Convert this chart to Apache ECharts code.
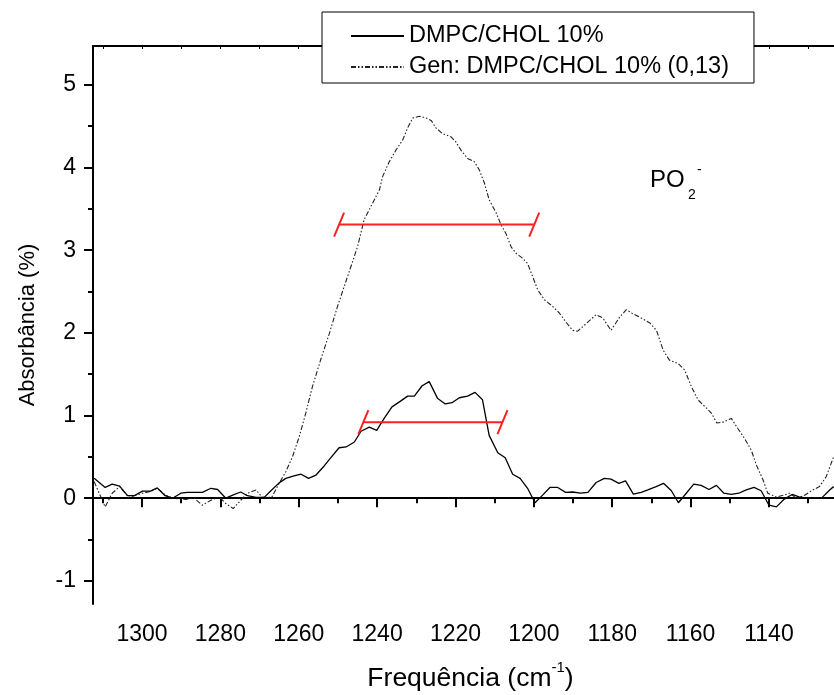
<!DOCTYPE html>
<html>
<head>
<meta charset="utf-8">
<script src="https://cdn.jsdelivr.net/npm/echarts@6/dist/echarts.min.js"></script>
<style>
html,body{margin:0;padding:0;background:#fff}
#main{width:834px;height:695px}
</style>
</head>
<body>
<div id="main"></div>
<script>
// DMPC/CHOL 10% (solid)
var wnPure = [1312.2,1309.4,1307.6,1305.7,1303.7,1302.0,1299.9,1297.8,1296.1,1294.1,1292.2,1290.1,1288.4,1286.4,1284.6,1282.4,1280.7,1278.6,1276.7,1274.8,1273.1,1270.9,1268.8,1266.9,1265.0,1263.3,1261.2,1259.4,1257.5,1255.6,1253.5,1251.8,1249.7,1247.9,1245.8,1244.1,1242.0,1240.1,1238.2,1236.2,1234.3,1232.2,1230.5,1228.5,1226.7,1224.6,1222.6,1220.9,1219.0,1216.9,1215.0,1213.1,1211.4,1209.2,1207.3,1205.4,1203.5,1201.6,1199.7,1197.7,1195.9,1193.9,1191.9,1190.1,1188.1,1186.2,1184.1,1182.0,1180.3,1178.3,1176.6,1174.6,1172.6,1170.9,1168.8,1166.9,1164.9,1163.1,1161.1,1159.2,1157.3,1155.3,1153.4,1151.5,1149.6,1147.7,1145.8,1143.8,1142.0,1140.0,1138.1,1136.2,1134.1,1132.3,1130.2,1128.3,1126.4,1124.5,1123.5];
var absPure = [0.24,0.13,0.17,0.145,0.03,0.03,0.085,0.085,0.125,0.03,0.0,0.06,0.07,0.07,0.07,0.12,0.105,0.0,0.04,0.075,0.03,0.01,0.01,0.1,0.185,0.24,0.27,0.29,0.24,0.28,0.39,0.49,0.61,0.62,0.68,0.81,0.86,0.82,0.965,1.105,1.165,1.235,1.235,1.36,1.41,1.21,1.14,1.155,1.215,1.235,1.28,1.19,0.76,0.55,0.49,0.29,0.24,0.12,-0.055,0.04,0.13,0.13,0.07,0.075,0.06,0.07,0.19,0.24,0.23,0.18,0.21,0.05,0.07,0.1,0.14,0.18,0.09,-0.055,0.06,0.17,0.155,0.105,0.155,0.06,0.045,0.06,0.1,0.13,0.09,-0.085,-0.105,-0.015,0.045,0.015,0.0,0.005,0.01,0.1,0.14];

// Gen: DMPC/CHOL 10% (0,13) (dash-dot-dot)
var wnGen = [1312.2,1309.4,1307.6,1305.7,1303.3,1299.9,1297.9,1296.1,1294.1,1292.2,1290.3,1288.8,1286.7,1284.6,1282.4,1280.3,1278.6,1276.7,1274.8,1273.1,1270.9,1269.3,1266.9,1265.0,1263.3,1261.6,1259.9,1258.2,1256.5,1254.3,1252.2,1250.1,1248.4,1246.7,1245.0,1243.3,1242.0,1240.7,1239.4,1238.6,1236.9,1235.2,1233.5,1232.2,1230.9,1229.2,1227.5,1226.2,1225.0,1223.3,1221.1,1219.9,1218.6,1216.9,1215.2,1213.9,1212.6,1211.4,1209.6,1208.4,1207.1,1205.8,1204.5,1202.8,1201.6,1200.3,1199.0,1197.3,1195.2,1193.5,1191.8,1190.1,1188.8,1186.7,1184.1,1182.4,1180.3,1178.1,1176.4,1174.7,1172.6,1170.4,1168.7,1167.0,1165.4,1163.2,1161.5,1159.8,1158.1,1156.4,1154.7,1153.3,1151.7,1149.6,1147.9,1146.2,1144.5,1143.2,1141.5,1140.3,1138.1,1136.4,1134.7,1133.0,1130.9,1128.8,1127.1,1125.4,1123.5];
var absGen = [0.2,-0.105,0.06,0.14,0.01,0.06,0.08,0.12,0.04,0.0,-0.01,-0.015,0.0,-0.085,-0.025,0.015,-0.065,-0.125,-0.025,0.06,0.1,0.01,0.01,0.18,0.32,0.5,0.74,1.03,1.35,1.69,1.99,2.32,2.56,2.80,3.04,3.37,3.49,3.61,3.73,3.89,4.07,4.21,4.33,4.48,4.60,4.62,4.60,4.57,4.48,4.41,4.37,4.31,4.21,4.11,4.07,3.97,3.81,3.61,3.45,3.31,3.20,3.04,2.96,2.90,2.84,2.68,2.52,2.40,2.32,2.24,2.13,2.03,2.02,2.11,2.22,2.18,2.03,2.19,2.28,2.23,2.18,2.12,2.03,1.79,1.67,1.63,1.55,1.35,1.19,1.11,1.03,0.91,0.92,0.965,0.84,0.72,0.58,0.40,0.22,0.06,0.015,0.035,0.06,0.0,0.035,0.1,0.14,0.26,0.50];

// red width markers: start, end, level
var fwhmStart = [1249.7, 1243.5];
var fwhmEnd = [1199.9, 1208.0];
var fwhmLevel = [3.31, 0.92];

var xMajor = [1140,1160,1180,1200,1220,1240,1260,1280,1300];
var xMinor = [1130,1150,1170,1190,1210,1230,1250,1270,1290,1310];
var yMajor = [-1,0,1,2,3,4,5];
var yMinor = [-0.5,0.5,1.5,2.5,3.5,4.5];

var seriesNames = ['DMPC/CHOL 10%', 'Gen: DMPC/CHOL 10% (0,13)'];

var FONT = 'Liberation Sans, Arial, sans-serif';
var X_MIN = 1123.4, X_MAX = 1312.5, Y_MIN = -1.28, Y_MAX = 5.47;

var pureData = wnPure.map(function (w, i) { return [w, absPure[i]]; });
var genData = wnGen.map(function (w, i) { return [w, absGen[i]]; });
var barData = fwhmStart.map(function (s, i) { return [s, fwhmEnd[i], fwhmLevel[i]]; });

var chart = echarts.init(document.getElementById('main'));

var plain = function (v) { return String(v); };

var axisBase = {
  type: 'value', min: X_MIN, max: X_MAX, inverse: true,
  splitLine: { show: false }
};

var option = {
  animation: false,
  backgroundColor: '#fff',
  grid: { left: 93, right: 0, top: 46, bottom: 91, outerBoundsMode: 'none', containLabel: false },
  legend: {
    data: seriesNames,
    orient: 'vertical',
    left: 322, top: 12,
    itemWidth: 53, itemHeight: 14, itemGap: 7,
    padding: [12, 25, 4, 28],
    backgroundColor: '#fff',
    borderColor: '#000', borderWidth: 1,
    itemStyle: { opacity: 0 },
    textStyle: { fontSize: 23.5, color: '#000', fontFamily: FONT }
  },
  xAxis: [
    Object.assign({}, axisBase, {
      position: 'bottom',
      name: '{n|Frequência (cm}{sup|-1}{n|)}',
      nameLocation: 'middle', nameGap: 56,
      nameTextStyle: {
        color: '#000', fontFamily: FONT,
        padding: [0, 0, 0, 14],
        rich: {
          n: { fontSize: 26.5, lineHeight: 32, verticalAlign: 'bottom', fontFamily: FONT, color: '#000' },
          sup: { fontSize: 15, lineHeight: 15, verticalAlign: 'top', fontFamily: FONT, color: '#000' }
        }
      },
      axisLine: { show: true, lineStyle: { color: '#000', width: 2 } },
      axisTick: { show: true, length: 9, lineStyle: { color: '#000', width: 2 }, customValues: xMajor },
      axisLabel: { show: true, margin: 19, fontSize: 23, color: '#000', fontFamily: FONT, customValues: xMajor, formatter: plain }
    }),
    Object.assign({}, axisBase, {
      position: 'bottom',
      axisLine: { show: false },
      axisTick: { show: true, length: 5, lineStyle: { color: '#000', width: 2 }, customValues: xMinor },
      axisLabel: { show: false }
    }),
    Object.assign({}, axisBase, {
      position: 'top',
      axisLine: { show: true, lineStyle: { color: '#000', width: 2 } },
      axisTick: { show: true, inside: true, length: 3, lineStyle: { color: '#000', width: 1 }, customValues: xMajor.concat(xMinor) },
      axisLabel: { show: false }
    })
  ],
  yAxis: [
    {
      type: 'value', min: Y_MIN, max: Y_MAX, position: 'left',
      name: 'Absorbância (%)',
      nameLocation: 'middle', nameGap: 54,
      nameTextStyle: { fontSize: 22, color: '#000', fontFamily: FONT },
      splitLine: { show: false },
      axisLine: { show: true, lineStyle: { color: '#000', width: 2 } },
      axisTick: { show: true, length: 9, lineStyle: { color: '#000', width: 2 }, customValues: yMajor },
      axisLabel: { show: true, margin: 17, fontSize: 23, color: '#000', fontFamily: FONT, customValues: yMajor, formatter: plain }
    },
    {
      type: 'value', min: Y_MIN, max: Y_MAX, position: 'left',
      splitLine: { show: false },
      axisLine: { show: false },
      axisTick: { show: true, length: 5, lineStyle: { color: '#000', width: 2 }, customValues: yMinor },
      axisLabel: { show: false }
    }
  ],
  graphic: [
    {
      type: 'text', left: 650, top: 168, z: 10,
      style: { text: 'PO', fontSize: 24, fontFamily: FONT, fill: '#000' }
    },
    {
      type: 'text', left: 688, top: 188, z: 10,
      style: { text: '2', fontSize: 14, fontFamily: FONT, fill: '#000' }
    },
    {
      type: 'text', left: 697, top: 163, z: 10,
      style: { text: '-', fontSize: 14, fontFamily: FONT, fill: '#000' }
    }
  ],
  series: [
    {
      name: seriesNames[0],
      type: 'line',
      data: pureData,
      symbol: 'none',
      clip: true,
      lineStyle: { color: '#000', width: 1.3 },
      itemStyle: { color: '#000' },
      z: 3
    },
    {
      name: seriesNames[1],
      type: 'line',
      data: genData,
      symbol: 'none',
      clip: true,
      lineStyle: { color: '#222', width: 1.1, type: [5, 2, 1.5, 2, 1.5, 2] },
      itemStyle: { color: '#222' },
      z: 2
    },
    {
      name: 'fwhm',
      type: 'custom',
      data: barData,
      encode: { x: [0, 1], y: 2 },
      z: 4,
      renderItem: function (params, api) {
        var a = api.coord([api.value(0), api.value(2)]);
        var b = api.coord([api.value(1), api.value(2)]);
        var st = { stroke: '#ff2020', lineWidth: 2 };
        return {
          type: 'group',
          children: [
            { type: 'line', shape: { x1: a[0], y1: a[1], x2: b[0], y2: b[1] }, style: st },
            { type: 'line', shape: { x1: a[0] - 5, y1: a[1] + 12, x2: a[0] + 5, y2: a[1] - 12 }, style: st },
            { type: 'line', shape: { x1: b[0] - 5, y1: b[1] + 12, x2: b[0] + 5, y2: b[1] - 12 }, style: st }
          ]
        };
      }
    }
  ]
};

chart.setOption(option);
</script>
</body>
</html>
